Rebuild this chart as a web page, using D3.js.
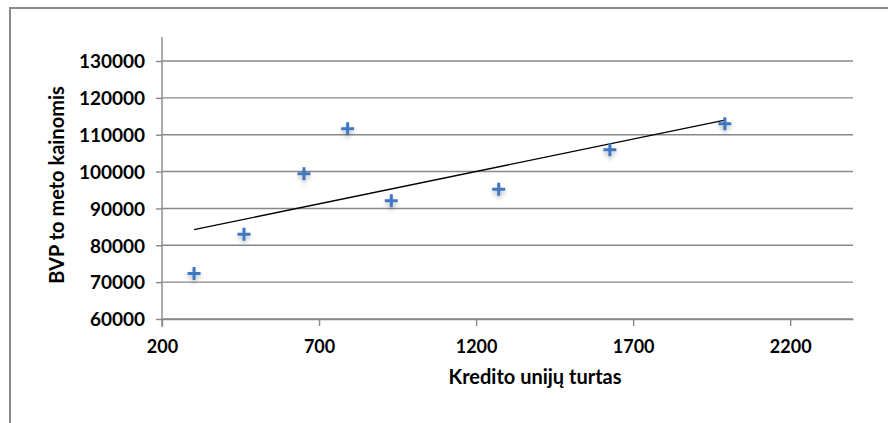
<!DOCTYPE html>
<html>
<head>
<meta charset="utf-8">
<script src="https://cdn.jsdelivr.net/npm/d3@7"></script>
<style>
  body { margin: 0; background: #fff; }
  text { font-family: Lato, "Open Sans", sans-serif; font-weight: bold; fill: #000; }
</style>
</head>
<body>
<div class="chart"></div>
<script>
// duomenys
const kreditoTurtas = [302, 461, 652, 791, 930, 1272, 1626, 1992];
const bvp = [72350, 82980, 99420, 111630, 92100, 95190, 105930, 112960];
const xTicks = [200, 700, 1200, 1700, 2200];
const yTicks = [60000, 70000, 80000, 90000, 100000, 110000, 120000, 130000];

const W = 888, H = 423;
const plot = { left: 162, right: 853, top: 61, bottom: 319 };

const svg = d3.select(".chart").append("svg")
    .attr("width", W).attr("height", H);

// rėmelis
svg.append("rect")
    .attr("x", 10).attr("y", 8)
    .attr("width", W).attr("height", H)
    .attr("fill", "none").attr("stroke", "#8a8a8a").attr("stroke-width", 2);

const x = d3.scaleLinear().domain([200, 2400]).range([plot.left, plot.right]);
const y = d3.scaleLinear().domain([60000, 130000]).range([plot.bottom, plot.top]);

// tinklelis
svg.selectAll(".grid")
    .data(yTicks)
    .enter().append("line")
    .attr("class", "grid")
    .attr("x1", plot.left).attr("x2", plot.right)
    .attr("y1", d => y(d)).attr("y2", d => y(d))
    .attr("stroke", "#888").attr("stroke-width", 1.4);

// Y ašis
const yAxis = svg.append("g")
    .attr("transform", `translate(${plot.left},0)`)
    .call(d3.axisLeft(y).tickValues(yTicks).tickSizeInner(6).tickSizeOuter(0).tickPadding(11).tickFormat(d3.format("d")));
yAxis.select(".domain").remove();
yAxis.selectAll(".tick line").attr("stroke", "#888").attr("stroke-width", 1.4);
yAxis.selectAll("text").style("font-size", "19px").attr("dy", "0.36em");
svg.append("line")
    .attr("x1", plot.left).attr("x2", plot.left)
    .attr("y1", 37).attr("y2", plot.bottom + 8)
    .attr("stroke", "#888").attr("stroke-width", 1.4);

// X ašis
const xAxis = svg.append("g")
    .attr("transform", `translate(0,${plot.bottom})`)
    .call(d3.axisBottom(x).tickValues(xTicks).tickSizeInner(7).tickSizeOuter(0).tickPadding(14).tickFormat(d3.format("d")));
xAxis.select(".domain").attr("stroke", "#888").attr("stroke-width", 1.4);
xAxis.selectAll(".tick line").attr("stroke", "#888").attr("stroke-width", 1.4);
xAxis.selectAll("text").style("font-size", "18px");

// ašių pavadinimai
svg.append("text")
    .attr("x", 535).attr("y", 384)
    .attr("text-anchor", "middle")
    .style("font-size", "20px")
    .text("Kredito unijų turtas");

svg.append("text")
    .attr("transform", "translate(64,185) rotate(-90)")
    .attr("text-anchor", "middle")
    .style("font-size", "20px")
    .text("BVP to meto kainomis");

// tiesinė tendencija (mažiausių kvadratų)
const mx = d3.mean(kreditoTurtas), my = d3.mean(bvp);
const sxy = d3.sum(kreditoTurtas, (v, i) => (v - mx) * (bvp[i] - my));
const sxx = d3.sum(kreditoTurtas, v => (v - mx) * (v - mx));
const slope = sxy / sxx, icpt = my - slope * mx;
const xr = d3.extent(kreditoTurtas);
svg.append("line")
    .attr("x1", x(xr[0])).attr("y1", y(icpt + slope * xr[0]))
    .attr("x2", x(xr[1])).attr("y2", y(icpt + slope * xr[1]))
    .attr("stroke", "#000").attr("stroke-width", 1.3);

// šešėlis žymekliams
const defs = svg.append("defs");
const f = defs.append("filter").attr("id", "shadow")
    .attr("x", "-100%").attr("y", "-100%").attr("width", "300%").attr("height", "300%");
f.append("feGaussianBlur").attr("in", "SourceAlpha").attr("stdDeviation", 2.2);
f.append("feOffset").attr("dx", 0).attr("dy", 3).attr("result", "b");
f.append("feComponentTransfer").append("feFuncA").attr("type", "linear").attr("slope", 0.25);
const m = f.append("feMerge");
m.append("feMergeNode");
m.append("feMergeNode").attr("in", "SourceGraphic");

// taškai
const points = kreditoTurtas.map((v, i) => ({ x: v, y: bvp[i] }));
svg.selectAll(".pt")
    .data(points)
    .enter().append("path")
    .attr("class", "pt")
    .attr("transform", d => `translate(${x(d.x)},${y(d.y)})`)
    .attr("d", "M-6.5,0H6.5M0,-6.5V6.5")
    .attr("stroke", "#3f77c1").attr("stroke-width", 3)
    .attr("filter", "url(#shadow)");
</script>
</body>
</html>
